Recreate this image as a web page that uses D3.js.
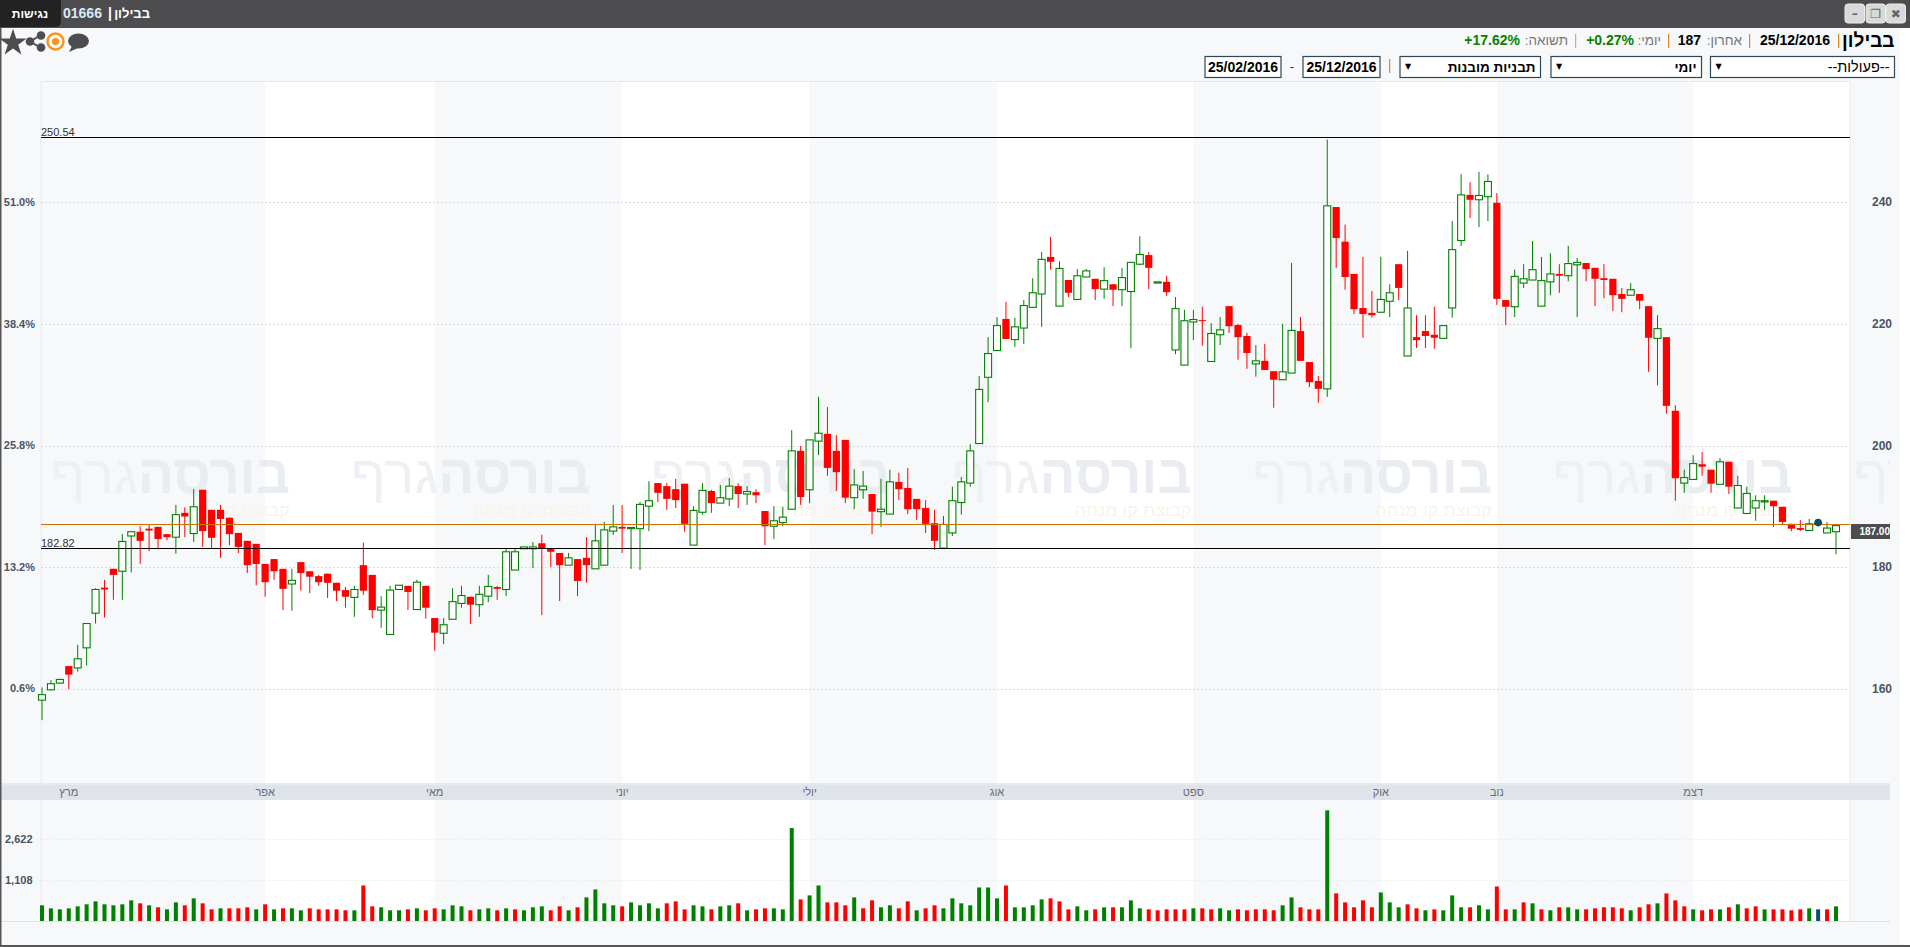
<!DOCTYPE html>
<html lang="he"><head><meta charset="utf-8"><title>בבילון</title>
<script src="https://cdn.jsdelivr.net/npm/d3@7/dist/d3.min.js"></script>
<style>html,body{margin:0;padding:0;background:#fff;overflow:hidden}svg{display:block;font-family:"Liberation Sans",Arial,sans-serif}</style>
</head><body><svg id="c" width="1910" height="947"></svg>
<script>
const opens=[158.3,160.0,161.1,163.9,163.6,166.9,172.6,176.8,179.9,179.5,
185.3,186.0,186.5,186.8,185.6,185.1,189.1,185.7,192.9,189.6,
189.6,188.3,185.8,184.5,184.0,180.7,181.5,179.9,177.4,181.0,
179.5,178.7,179.1,177.6,176.4,175.2,180.5,178.9,173.1,169.1,
176.5,177.1,173.2,177.1,171.8,169.3,171.6,174.2,175.3,174.0,
175.4,176.9,176.5,179.7,183.2,183.2,184.1,183.2,182.5,180.5,
181.5,181.7,179.9,180.5,186.1,186.8,186.5,186.5,190.2,194.0,
193.5,193.0,193.9,183.8,189.2,192.7,190.7,191.4,193.5,192.2,
192.5,189.4,186.9,187.5,189.7,199.3,192.9,200.9,202.1,199.3,
201.1,191.6,192.9,192.2,189.3,188.9,194.2,193.2,191.4,189.9,
187.4,183.3,185.8,190.8,194.0,200.5,211.4,215.8,221.0,217.6,
219.5,222.9,225.1,231.2,223.1,227.4,224.2,227.9,227.6,225.9,
226.7,225.8,225.5,230.0,231.5,226.9,227.1,215.9,213.4,220.5,
220.8,214.0,218.4,223.1,220.0,218.2,213.6,214.1,212.4,211.0,
212.1,219.0,213.9,210.8,209.5,239.4,233.7,228.4,222.8,222.0,
222.1,223.9,230.0,214.9,218.0,219.0,218.4,217.8,222.8,233.9,
241.4,240.6,241.1,240.1,224.1,223.0,226.9,227.4,223.1,227.1,
228.4,228.1,229.9,230.2,229.4,227.7,227.6,225.1,224.9,225.1,
223.1,217.8,218.0,205.9,194.0,194.6,197.1,196.2,193.8,197.5,
189.9,189.0,189.9,190.9,191.1,190.1,187.3,186.6,186.2,187.2,
185.8,186.0];
const highs=[160.4,161.6,161.8,163.9,167.4,170.9,176.7,178.1,179.9,185.6,
186.0,186.9,187.1,186.8,185.6,190.4,190.0,193.0,192.9,189.6,
190.4,188.3,185.8,184.5,184.0,180.7,181.5,179.9,179.9,181.0,
179.5,178.9,179.1,177.6,176.9,177.1,184.2,178.9,175.4,177.1,
177.2,177.1,178.1,177.1,171.8,171.8,176.7,177.1,175.3,177.1,
178.9,177.1,183.2,183.2,183.5,184.3,185.5,183.2,182.5,182.5,
181.5,185.1,187.3,187.6,190.4,190.4,186.7,190.9,194.3,194.0,
194.0,194.7,193.9,190.2,194.0,192.9,193.7,194.8,194.0,193.5,
193.0,189.4,190.2,190.1,202.7,200.1,201.1,208.2,206.5,201.9,
201.1,196.3,196.0,192.2,194.7,196.2,195.7,196.5,191.4,191.2,
189.6,188.6,193.4,195.0,200.4,211.6,218.0,221.3,223.8,221.2,
224.1,227.7,232.0,234.5,230.5,227.4,229.2,229.2,227.6,229.5,
226.7,229.4,230.3,234.6,232.0,227.1,228.1,224.6,222.5,222.5,
223.0,220.3,221.3,223.1,220.2,218.7,216.7,216.9,212.4,220.2,
230.2,221.3,213.9,211.6,250.5,239.4,236.5,228.4,231.2,225.6,
231.2,226.7,230.0,232.2,221.6,221.6,223.0,220.0,237.1,244.8,
243.5,245.2,244.8,241.7,224.1,229.1,230.0,233.8,231.2,231.8,
230.0,233.0,231.0,230.2,229.4,230.0,227.6,226.1,226.9,225.1,
223.1,221.6,218.0,206.8,196.2,198.6,199.1,196.2,198.1,197.5,
195.2,193.4,192.0,192.0,191.1,190.1,187.3,187.9,188.1,187.4,
187.6,187.1];
const lows=[155.0,159.9,161.1,160.1,163.0,164.0,170.9,171.9,174.8,174.8,
179.3,180.7,182.8,183.1,184.6,182.4,185.1,184.3,183.5,183.3,
181.7,183.8,182.5,179.2,177.2,175.3,178.1,173.1,173.0,176.3,
175.9,177.1,175.1,174.6,173.5,172.0,175.6,171.8,170.2,169.1,
176.5,173.1,173.2,171.7,166.4,167.5,171.6,173.5,170.8,172.0,
174.4,174.8,175.4,179.7,183.2,180.0,172.3,180.2,174.6,180.5,
175.4,177.6,179.9,180.5,185.5,182.5,179.9,179.7,186.1,190.9,
189.6,189.9,186.0,183.8,188.8,189.1,190.7,190.2,189.9,190.4,
190.7,183.8,184.8,186.9,189.7,190.4,190.7,198.6,195.2,192.7,
190.7,189.7,191.4,185.6,186.8,188.9,191.2,188.9,187.9,185.8,
183.0,183.3,185.3,188.8,193.4,200.5,207.3,215.8,217.7,216.4,
216.9,222.9,219.7,229.1,223.1,224.6,224.2,227.9,224.1,224.3,
223.1,223.1,216.2,229.8,225.9,226.9,224.8,215.2,213.4,217.5,
216.6,214.0,216.7,218.7,214.3,212.8,211.5,212.6,206.4,211.0,
212.1,214.1,209.8,207.2,208.2,229.4,225.8,221.8,217.9,221.2,
222.1,221.3,224.1,214.9,216.2,216.2,216.1,217.8,221.2,233.0,
237.6,236.1,237.1,223.3,220.0,221.3,226.1,227.4,223.1,224.9,
225.3,227.2,221.3,227.2,223.1,224.4,222.3,222.1,224.9,222.6,
212.3,210.1,205.4,191.1,192.4,194.6,195.2,192.4,193.8,192.2,
189.9,189.0,187.8,189.6,186.8,187.3,186.1,186.1,186.2,187.2,
185.8,182.3];
const closes=[159.2,161.0,161.7,162.5,165.1,170.9,176.5,176.5,178.9,184.4,
186.0,184.5,186.2,184.8,185.1,188.8,188.5,190.1,186.1,185.0,
188.1,185.6,183.5,180.5,180.7,177.7,179.5,176.6,178.0,179.2,
178.6,177.7,177.6,176.3,175.3,176.5,176.3,173.1,173.6,176.4,
177.2,176.1,177.7,173.5,169.4,170.7,174.5,175.5,174.0,175.7,
177.0,176.6,182.7,182.7,183.5,183.5,183.3,182.7,180.5,181.7,
177.9,180.5,184.5,186.3,186.8,186.5,186.7,190.5,191.1,192.4,
191.4,191.2,187.3,189.5,192.8,190.7,191.6,193.5,192.2,192.6,
192.0,186.9,187.8,188.4,199.3,191.7,201.1,202.2,196.5,195.8,
191.6,193.7,193.5,189.3,189.7,194.2,193.0,189.7,189.7,187.3,
184.5,187.2,191.1,194.2,199.3,209.4,215.3,219.9,217.7,219.7,
223.2,225.3,230.8,230.4,229.3,225.3,228.1,228.9,225.9,227.3,
225.8,227.8,230.3,231.6,229.4,227.1,225.4,222.7,220.7,220.9,
220.7,218.6,219.2,219.8,218.0,215.4,214.1,212.6,211.0,212.3,
219.1,214.1,210.6,209.5,239.6,234.3,227.9,222.6,221.8,221.6,
224.2,225.3,226.1,222.8,217.5,218.2,217.9,219.9,232.4,241.4,
240.6,241.3,243.6,224.3,223.0,228.0,227.6,229.1,227.3,228.4,
228.1,230.1,230.3,229.2,227.6,227.4,224.9,224.3,225.8,224.0,
217.9,219.4,206.7,194.8,194.9,197.2,196.7,193.9,197.5,193.4,
193.6,192.3,191.1,191.1,190.2,187.6,186.5,186.3,187.3,187.4,
186.6,187.0];
const volumes=[655,615,602,615,641,669,712,669,655,669,727,683,655,628,602,697,655,758,683,602,615,615,615,628,602,669,602,615,615,590,615,602,602,602,590,590,994,641,628,590,590,602,615,590,615,602,655,641,590,602,615,590,615,602,590,628,641,590,641,590,628,774,914,683,655,641,697,655,
683,615,683,712,602,655,641,602,641,655,683,590,602,615,615,602,3320,742,807,994,697,697,655,774,615,727,628,655,615,712,590,615,655,615,758,683,655,953,953,758,994,628,628,655,742,758,712,602,641,590,602,628,628,628,727,615,602,590,602,602,602,615,615,602,615,590,602,590,602,602,590,
655,774,628,602,602,4815,841,697,628,727,628,859,697,628,669,615,590,602,590,807,628,628,655,602,973,602,602,697,683,602,590,628,628,602,602,615,628,628,615,590,628,669,683,841,727,641,602,590,602,602,628,669,615,641,602,602,602,590,602,615,602,602,641];
const volumeSides="GGGGGGGGGGGRGRGGRGRRGRRRGRGRGGRRRRRGRRGGGRGRRGGGRGGRGRGGGRRGRGGGGRGG"+
"GGRRRGGRGGRGRRGGGRGGRRRGRRGGRRGRRGGGGGGGRGGGGRRRGGRGRGGGRRRRRGRRGGRRRRR"+
"GGRRRGRRRRRGGGRRGRGGGRGGRRGRGRGRGGRRRRRGRRGRRRGRRGRGRRGRRRRGBRG";
const priceTicks=[160,180,200,220,240];
const pctLabels=["0.6%","13.2%","25.8%","38.4%","51.0%"];
const volumeTicks=[1108,2622];
const volumeTickLabels=["1,108","2,622"];
const monthNames=["מרץ","אפר","מאי","יוני","יולי","אוג","ספט","אוק","נוב","דצמ"];
const monthStarts=[3,25,44,65,86,107,129,150,163,185];
const levelLines=[250.86,183.27];
const levelLabels=["250.54","182.82"];
const lastPriceLine=187.2;
const lastPriceLabel="187.00";
const markerIndex=199;
const markerPrice=187.5;
const wmCopies=[0,1,2,3,4,5,6];

const svg=d3.select("#c");
const x=d3.scaleLinear().domain([0,201]).range([42,1836]);
const y=d3.scaleLinear().domain([180,240]).range([568.2,203.4]);
const v=d3.scaleLog().domain([1108,2622]).range([880.3,839.3]);
const bg="#f6f8fa", volBase=921, L=41, R=1850;
const snap=p=>Math.floor(p)+.5;
const add=(n,a,t)=>{const e=svg.append(n);Object.entries(a).forEach(([k,w])=>e.attr(k,w));if(t!==undefined)e.text(t);return e;};

add("rect",{x:0,y:0,width:1900,height:947,fill:bg});

// month bands
const bandEdges=monthStarts.slice(1).map(i=>x(i)).concat([R]);
const bandStart=[L].concat(bandEdges);
const bands=d3.range(1,bandEdges.length,2);
svg.append("g").selectAll("rect").data(bands).join("rect")
  .attr("x",i=>bandStart[i]).attr("width",i=>bandEdges[i]-bandStart[i])
  .attr("y",82).attr("height",volBase-82).attr("fill","#fff");

// watermark
const wm=svg.append("g").attr("clip-path","url(#wmclip)");
svg.append("defs").append("clipPath").attr("id","wmclip").append("rect").attr("x",0).attr("y",60).attr("width",1890).attr("height",700);
wmCopies.forEach(k=>{
  const ox=50+k*300.5;
  if(ox+88<1890){
    wm.append("text").attr("x",ox+88).attr("y",493).attr("font-size",54).attr("font-weight",700).attr("fill","#e9ecf0")
      .attr("textLength",152).attr("lengthAdjust","spacingAndGlyphs").text("בורסה");
    wm.append("text").attr("x",ox+123).attr("y",516).attr("font-size",17).attr("fill","#fbf3ea")
      .attr("textLength",117).attr("lengthAdjust","spacingAndGlyphs").text("קבוצת קו מנחה");
  }
  wm.append("text").attr("x",ox).attr("y",493).attr("font-size",54).attr("font-weight",400).attr("fill","#eef0f3")
    .attr("textLength",88).attr("lengthAdjust","spacingAndGlyphs").text("גרף");
});

// frame lines of plot
add("line",{x1:L,x2:L,y1:82,y2:volBase,stroke:"#e8ebef"});
add("line",{x1:R,x2:R,y1:82,y2:volBase,stroke:"#e8ebef"});
add("line",{x1:L,x2:R,y1:81.5,y2:81.5,stroke:"#d4d6da","stroke-dasharray":"1 1"});

// price grid
const grid=svg.append("g");
grid.selectAll("line").data(priceTicks).join("line")
  .attr("x1",L).attr("x2",R).attr("y1",d=>snap(y(d)-.6)).attr("y2",d=>snap(y(d)-.6))
  .attr("stroke","#d9dbdf").attr("stroke-dasharray","2 2");
svg.append("g").selectAll("text").data(priceTicks).join("text")
  .attr("x",1872).attr("y",d=>y(d)+3).attr("font-size",12).attr("font-weight",700).attr("fill","#4a5464").text(d=>d);
svg.append("g").selectAll("text").data(priceTicks).join("text")
  .attr("x",35).attr("y",d=>y(d)+2.5).attr("text-anchor","end").attr("font-size",11).attr("font-weight",700).attr("fill","#4a5464").text((d,i)=>pctLabels[i]);

// candles
const idx=d3.range(opens.length);
const cg=svg.append("g");
cg.selectAll("line").data(idx).join("line")
  .attr("x1",i=>x(i)).attr("x2",i=>x(i)).attr("y1",i=>y(highs[i])).attr("y2",i=>y(lows[i]))
  .attr("stroke",i=>closes[i]>=opens[i]?"#008000":"#ff0000").attr("stroke-width",1);
cg.selectAll("rect").data(idx).join("rect")
  .attr("x",i=>x(i)-(closes[i]>=opens[i]?3.5:3.6))
  .attr("width",i=>closes[i]>=opens[i]?7:7.2)
  .attr("y",i=>y(Math.max(opens[i],closes[i])))
  .attr("height",i=>Math.max(1,Math.abs(y(opens[i])-y(closes[i]))))
  .attr("fill",i=>closes[i]>=opens[i]?"#fff":"#ff0000")
  .attr("stroke",i=>closes[i]>=opens[i]?"#008000":"none").attr("stroke-width",1.1);

// level lines
svg.append("g").selectAll("line").data(levelLines).join("line")
  .attr("x1",L).attr("x2",R).attr("y1",d=>snap(y(d))).attr("y2",d=>snap(y(d))).attr("stroke","#000");
svg.append("g").selectAll("text").data(levelLines).join("text")
  .attr("x",41).attr("y",d=>y(d)-1).attr("font-size",11).attr("fill","#333").text((d,i)=>levelLabels[i]);
add("line",{x1:L,x2:R,y1:snap(y(lastPriceLine)),y2:snap(y(lastPriceLine)),stroke:"#d07000"});
add("rect",{x:R+1,y:524,width:39,height:15,fill:"#4d4d4f"});
add("text",{x:1890,y:535,"text-anchor":"end","font-size":10,"font-weight":700,fill:"#fff"},lastPriceLabel);
add("circle",{cx:x(markerIndex),cy:y(markerPrice),r:3.8,fill:"#0b4a74"});

// month bar
add("rect",{x:0,y:783,width:1890,height:2,fill:"#e8e9ec"});
add("rect",{x:0,y:785,width:1890,height:15,fill:"#dfe3ea"});
svg.append("g").selectAll("text").data(monthNames).join("text")
  .attr("x",(d,i)=>x(monthStarts[i])).attr("y",796).attr("text-anchor","middle")
  .attr("font-size",11).attr("fill","#666c76").text(d=>d);

// volume panel
svg.append("g").selectAll("line").data(volumeTicks).join("line")
  .attr("x1",L).attr("x2",R).attr("y1",d=>snap(v(d))).attr("y2",d=>snap(v(d)))
  .attr("stroke","#e4e6ea").attr("stroke-dasharray","1 2");
svg.append("g").selectAll("text").data(volumeTicks).join("text")
  .attr("x",5).attr("y",d=>v(d)+4).attr("font-size",11).attr("font-weight",700).attr("fill","#4a5464").text((d,i)=>volumeTickLabels[i]);
const sideColor={G:"#008000",R:"#ff0000",B:"#0b4a74"};
svg.append("g").selectAll("rect").data(volumes).join("rect")
  .attr("x",(d,i)=>x(i)-2).attr("width",4).attr("y",d=>v(d)).attr("height",d=>volBase-v(d))
  .attr("fill",(d,i)=>sideColor[volumeSides[i]]);
add("line",{x1:0,x2:1890,y1:volBase+.5,y2:volBase+.5,stroke:"#dfe1e5"});

// window frame
add("rect",{x:0,y:28,width:1.5,height:919,fill:"#555"});
add("rect",{x:0,y:945,width:1910,height:2,fill:"#555"});
add("rect",{x:0,y:0,width:1910,height:28,fill:"#4d4d4f"});
add("path",{d:"M0 0H61V21Q61 27 55 27H0Z",fill:"#222"});
add("text",{x:30,y:18,"text-anchor":"middle","font-size":12,"font-weight":700,fill:"#fff"},"נגישות");
add("text",{x:63,y:18,"font-size":14,"font-weight":700,fill:"#dbe9f6"},"01666");
add("text",{x:108,y:18,"font-size":14,"font-weight":700,fill:"#fff"},"|");
add("text",{x:150,y:18,"text-anchor":"end","font-size":13,"font-weight":700,fill:"#fff"},"בבילון");

// window buttons
[[1845,"–"],[1866,"❐"],[1886,"✖"]].forEach(([bx,g])=>{
  add("rect",{x:bx,y:4,width:19.5,height:19,rx:3,fill:"#d9d9d9",stroke:"#eee"});
  add("text",{x:bx+9.7,y:18,"text-anchor":"middle","font-size":12,"font-weight":700,fill:"#666",style:"font-family:'DejaVu Sans'"},g);
});

// header row
const hdr=(xr,t,o)=>add("text",Object.assign({x:xr,y:45,"text-anchor":"end","font-size":13.5,fill:"#000"},o||{}),t);
hdr(1894.5,"בבילון",{"font-size":19,"font-weight":700,y:47});
hdr(1830,"25/12/2016",{"font-weight":700,"font-size":14});
hdr(1742,"\u200Fאחרון:\u200F",{fill:"#777"});
hdr(1701,"187",{"font-weight":700,"font-size":14});
hdr(1661,"\u200Fיומי:\u200F",{fill:"#777"});
hdr(1634,"+0.27%",{"font-weight":700,fill:"#0a8000","font-size":14});
hdr(1568,"\u200Fתשואה:\u200F",{fill:"#777"});
hdr(1520,"+17.62%",{"font-weight":700,fill:"#0a8000","font-size":14});
[1838,1749,1668].forEach(sx=>add("rect",{x:sx,y:34,width:1.2,height:14,fill:"#e08a1e"}));
add("rect",{x:1575,y:34,width:1.2,height:14,fill:"#e0a860"});

// controls
const sel=(x0,x1,t,w,fs)=>{
  add("rect",{x:x0,y:56.5,width:x1-x0,height:21,fill:"#fff",stroke:"#2f4858","stroke-width":1.2});
  add("text",{x:x1-5,y:72,"text-anchor":"end","font-size":fs,"font-weight":w,fill:"#000"},t);
  add("text",{x:x0+5,y:69,"font-size":8,fill:"#000",style:"font-family:'DejaVu Sans'"},"▼");
};
sel(1710.5,1894.5,"--פעולות--",400,14.5);
sel(1551,1701.5,"יומי",700,13.5);
sel(1400,1540.5,"תבניות מובנות",700,13.5);
add("rect",{x:1389,y:59,width:1.2,height:14,fill:"#e08a1e"});
const dbox=(x0,x1,t)=>{
  add("rect",{x:x0,y:56.5,width:x1-x0,height:21,fill:"#fff",stroke:"#2f4858","stroke-width":1.2});
  add("text",{x:(x0+x1)/2,y:72,"text-anchor":"middle","font-size":14,"font-weight":700,fill:"#000"},t);
};
dbox(1303,1380,"25/12/2016");
add("text",{x:1292,y:71,"text-anchor":"middle","font-size":13,fill:"#333"},"-");
dbox(1205,1281,"25/02/2016");

// icons
add("path",{d:d3.symbol(d3.symbolStar,230)(),transform:"translate(13,43)",fill:"#4d4d4f"});
const ic=svg.append("g").attr("fill","#4d4d4f");
ic.append("path").attr("d","M30 41.5L41 35M30 41.5L41 48").attr("stroke","#4d4d4f").attr("stroke-width",2);
[[30,41.5,4.3],[41,35.5,4.3],[41,47.5,4.3]].forEach(c=>ic.append("circle").attr("cx",c[0]).attr("cy",c[1]).attr("r",c[2]));
add("circle",{cx:55.5,cy:41.5,r:8,fill:"none",stroke:"#f7941d","stroke-width":2.4});
add("circle",{cx:55.5,cy:41.5,r:3.6,fill:"#f7941d"});
ic.append("ellipse").attr("cx",78.5).attr("cy",41).attr("rx",10.5).attr("ry",7.5);
ic.append("path").attr("d","M72 46L69 52L78 48Z");
</script></body></html>
